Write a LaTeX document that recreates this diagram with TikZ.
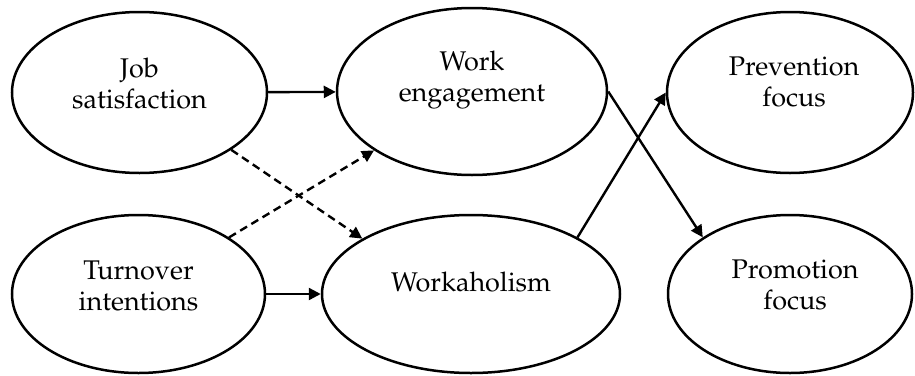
\documentclass[tikz,border=0pt]{standalone}
\usepackage[T1]{fontenc}
\usepackage{mathpazo}
\usetikzlibrary{arrows.meta,shapes.geometric}

\tikzset{
	latent/.style={ellipse, draw, line width=1.25pt, inner sep=0pt},
	caption/.style={align=center, font=\fontsize{13.5}{15.5}\selectfont},
	link/.style={line width=1.2pt, -{Triangle[length=6pt,width=6pt]}},
	dlink/.style={link, dash pattern=on 4pt off 2.5pt}
}

\begin{document}
\begin{tikzpicture}[x=0.5pt, y=-0.5pt]
		\useasboundingbox (0, 0) rectangle (915, 375);

		% constructs
		\node [latent, minimum width=127.5pt, minimum height=80.5pt,
			label={[caption, yshift=4.5pt]center:Job\\satisfaction}] (job) at (139.5, 92.5) {};
		\node [latent, minimum width=126.5pt, minimum height=79pt,
			label={[caption, yshift=4pt]center:Turnover\\intentions}] (turn) at (138.5, 294) {};
		\node [latent, minimum width=135pt, minimum height=83.5pt,
			label={[caption, yshift=5.5pt]center:Work\\engagement}] (work) at (472, 91.5) {};
		\node [latent, minimum width=149pt, minimum height=79pt,
			label={[caption, yshift=6pt]center:Workaholism}] (wkh) at (471, 294) {};
		\node [latent, minimum width=123pt, minimum height=80.5pt,
			label={[caption, yshift=5.5pt, xshift=2pt]center:Prevention\\focus}] (prev) at (790, 92.5) {};
		\node [latent, minimum width=122pt, minimum height=79pt,
			label={[caption, yshift=4.5pt, xshift=2.5pt]center:Promotion\\focus}] (prom) at (790, 294) {};

		% paths
		\draw [link] (job) -- (work);
		\draw [link] (turn) -- (wkh);
		\draw [dlink] (job.-32) -- (wkh.153);
		\draw [dlink] (turn.32) -- (work.211);
		\draw [link] (work.east) -- (prom.147);
		\draw [link] (wkh.28) -- (prev.west);
	\end{tikzpicture}
\end{document}
